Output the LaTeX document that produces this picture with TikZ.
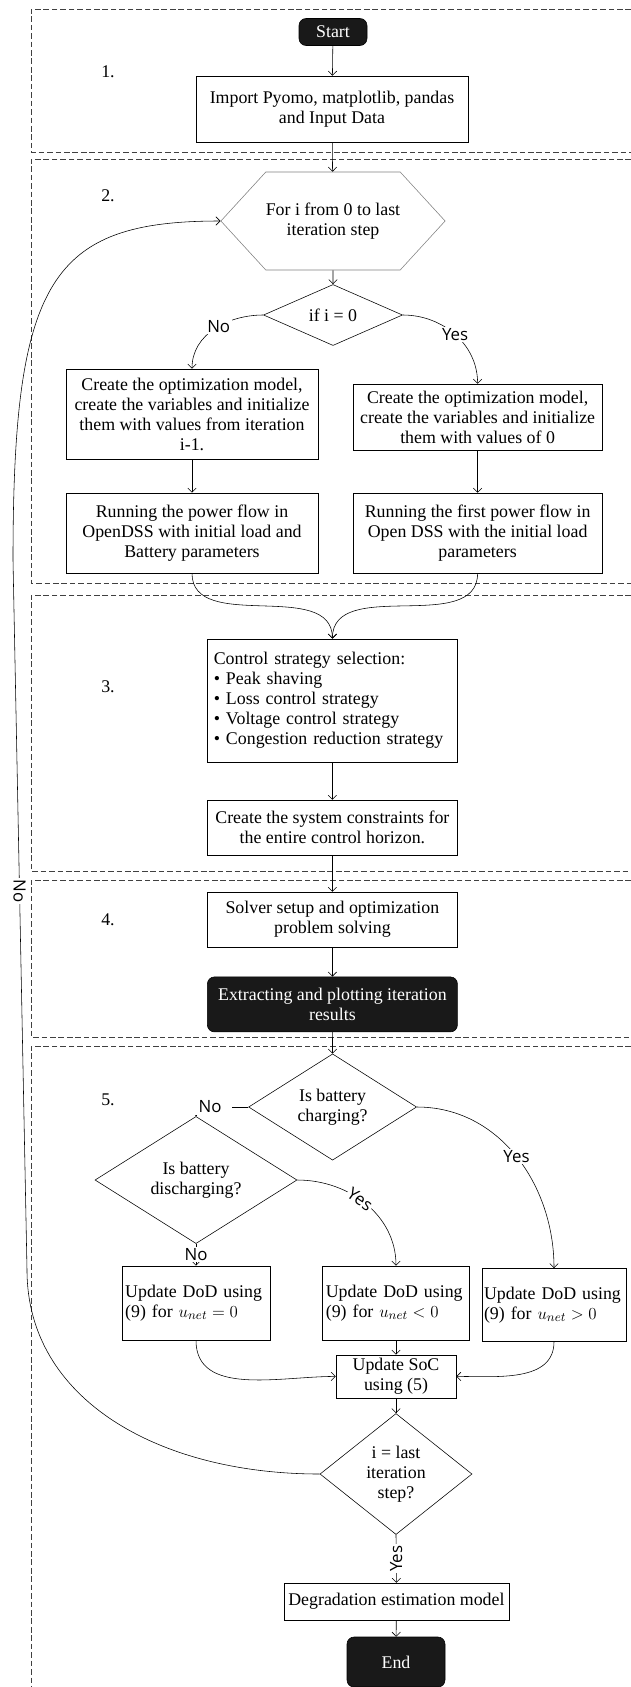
\documentclass[tikz,border=0pt]{standalone}
\usepackage{fontspec}
\setmainfont{Liberation Serif}
\newfontfamily\lblfont{Open Sans}
\usepackage{tikz}
\usetikzlibrary{arrows.meta, calc, positioning, shapes.geometric, shapes.symbols}

\begin{document}
\begin{tikzpicture}[
		font=\fontsize{12.7}{14.2}\selectfont,
		block/.style={rectangle, draw, thin, align=center, inner sep=2pt},
		term/.style={block, rounded corners=5pt, fill=black!90, text=white},
		decision/.style={diamond, draw, thin, align=center, inner sep=0pt},
		loopbox/.style={signal, signal to=east and west, signal pointer angle=95, draw=gray, thin, align=center, inner sep=0pt},
		dod/.style={block, align=left, inner xsep=0.08cm, minimum height=1.85cm},
		frame/.style={-, draw=black!75, dash pattern=on 4pt off 2pt, line width=0.5pt},
		lbl/.style={font=\lblfont\fontsize{12}{14}\selectfont, fill=white, inner sep=1pt},
		->,>={Straight Barb[length=3pt,width=6pt]}
		]
	
		\useasboundingbox (0,0) rectangle (15.775,-42.175);
	
		% --- Cadres des etapes ---
		\draw[frame] (15.775,-0.225) -| (0.775,-3.8) -- (15.775,-3.8);
		\draw[frame] (15.775,-3.975) -| (0.775,-14.575) -- (15.775,-14.575);
		\draw[frame] (15.775,-14.875) -| (0.775,-21.775) -- (15.775,-21.775);
		\draw[frame] (15.775,-22.0) -| (0.775,-25.925) -- (15.775,-25.925);
		\draw[frame] (15.775,-26.15) -| (0.775,-42.175);
	
		\node (n1) at (2.7, -1.8) {1.};
		\node (n2) at (2.7, -4.9) {2.};
		\node (n3) at (2.7, -17.175) {3.};
		\node (n4) at (2.7, -23.0) {4.};
		\node (n5) at (2.7, -27.5) {5.};
	
		% --- Noeuds ---
		\node[term, minimum width=1.7cm, minimum height=0.675cm] (start) at (8.325, -0.8) {Start};
		\node[block, minimum width=6.8cm, minimum height=1.65cm] (import) at (8.3, -2.725) {Import Pyomo, matplotlib, pandas\\and Input Data};
		\node[loopbox, minimum width=5.6cm, minimum height=2.45cm] (cond) at (8.325, -5.525) {For i from 0 to last\\iteration step};
		\node[decision, minimum width=3.475cm, minimum height=1.25cm] (first) at (8.325, -7.875) {if i = 0};
		\node[block, minimum width=6.3cm, minimum height=2.25cm] (newmodel) at (4.8, -10.35) {Create the optimization model,\\create the variables and initialize\\them with values from iteration\\i-1.};
		\node[block, minimum width=6.225cm, minimum height=1.65cm] (firstmodel) at (11.94, -10.425) {Create the optimization model,\\create the variables and initialize\\them with values of 0};
		\node[block, minimum width=6.3cm, minimum height=2.0cm] (flow) at (4.8, -13.325) {Running the power flow in\\OpenDSS with initial load and\\Battery parameters};
		\node[block, minimum width=6.225cm, minimum height=2.0cm] (firstflow) at (11.94, -13.325) {Running the first power flow in\\Open DSS with the initial load\\parameters};
		\node[block, align=left, text width=5.93cm, inner xsep=0.16cm, minimum height=3.075cm] (strategy) at (8.31, -17.51) {Control strategy selection:\\\textbullet\ Peak shaving\\\textbullet\ Loss control strategy\\\textbullet\ Voltage control strategy\\\textbullet\ Congestion reduction strategy};
		\node[block, minimum width=6.25cm, minimum height=1.375cm] (constraints) at (8.31, -20.69) {Create the system constraints for\\the entire control horizon.};
		\node[block, minimum width=6.25cm, minimum height=1.375cm] (solver) at (8.31, -22.99) {Solver setup and optimization\\problem solving};
		\node[term, minimum width=6.25cm, minimum height=1.375cm] (extract) at (8.31, -25.11) {Extracting and plotting iteration\\results};
		\node[decision, minimum width=4.2cm, minimum height=2.6cm] (charge) at (8.315, -27.675) {Is battery\\charging?};
		\node[decision, minimum width=5.05cm, minimum height=2.575cm] (discharge) at (4.9, -29.5) {Is battery\\discharging?};
		\node[dod, text width=3.54cm] (dodl) at (4.9, -32.575) {Update DoD using\\(9) for $u_{net} = 0$};
		\node[dod, text width=3.51cm] (dodm) at (9.9, -32.575) {Update DoD using\\(9) for $u_{net} < 0$};
		\node[dod, text width=3.5cm, inner xsep=0.05cm, minimum height=1.825cm] (dodr) at (13.85, -32.625) {Update DoD using\\(9) for $u_{net} > 0$};
		\node[block, minimum width=3.0cm, minimum height=1.075cm] (soc) at (9.9, -34.41) {Update SoC\\using (5)};
		\node[decision, minimum width=3.8cm, minimum height=3.025cm] (last) at (9.9, -36.85) {i = last\\iteration\\step?};
		\node[block, minimum width=5.625cm, minimum height=0.925cm] (degrad) at (9.91, -40.04) {Degradation estimation model};
		\node[term, minimum width=2.45cm, minimum height=1.25cm] (end) at (9.9, -41.55) {End};
	
		% --- Arcs ---
		\draw (start) -- (import);
		\draw (import) -- (cond);
		\draw (cond) -- (first);
		\draw (first.west) to[out=180, in=90] node[lbl, pos=0.45] {No} (newmodel.north);
		\draw (first.east) to[out=0, in=90] node[lbl, pos=0.5] {Yes} (firstmodel.north);
		\draw (newmodel) -- (flow);
		\draw (firstmodel) -- (firstflow);
		\draw (flow.south) to[out=-90, in=90] (strategy.north);
		\draw (firstflow.south) to[out=-90, in=90] (strategy.north);
		\draw (strategy) -- (constraints);
		\draw (constraints) -- (solver);
		\draw (solver) -- (extract);
		\draw (extract) -- (charge);
		\draw (charge.west) -| node[lbl, pos=0.5, xshift=0.35cm, minimum width=1.1cm] {No} (discharge.north);
		\draw (charge.east) to[out=0, in=90] node[lbl, pos=0.5] {Yes} (dodr.north);
		\draw (discharge.east) to[out=0, in=90] node[lbl, sloped, pos=0.45] {Yes} (dodm.north);
		\draw (discharge.south) -- node[lbl] {No} (dodl.north);
		\draw (dodm) -- (soc);
		\draw (dodl.south) to[out=-90, in=180] (soc.west);
		\draw (dodr.south) to[out=-90, in=0] (soc.east);
		\draw (soc) -- (last);
		\draw (last.south) -- node[lbl, rotate=90] {Yes} (degrad.north);
		\draw (degrad) -- (end);
	
		% Retour vers la boucle
		\coordinate (nolow) at (0.675, -31.75);
		\coordinate (nohigh) at (0.325, -14.0);
		\draw (last.west) .. controls +(-4,0) and +(0,-3.25) .. (nolow) -- node[lbl, pos=0.534, rotate=-90] {No} (nohigh) .. controls +(0,7) and +(-4.25,0) .. (cond.west);
	
	\end{tikzpicture}
\end{document}
